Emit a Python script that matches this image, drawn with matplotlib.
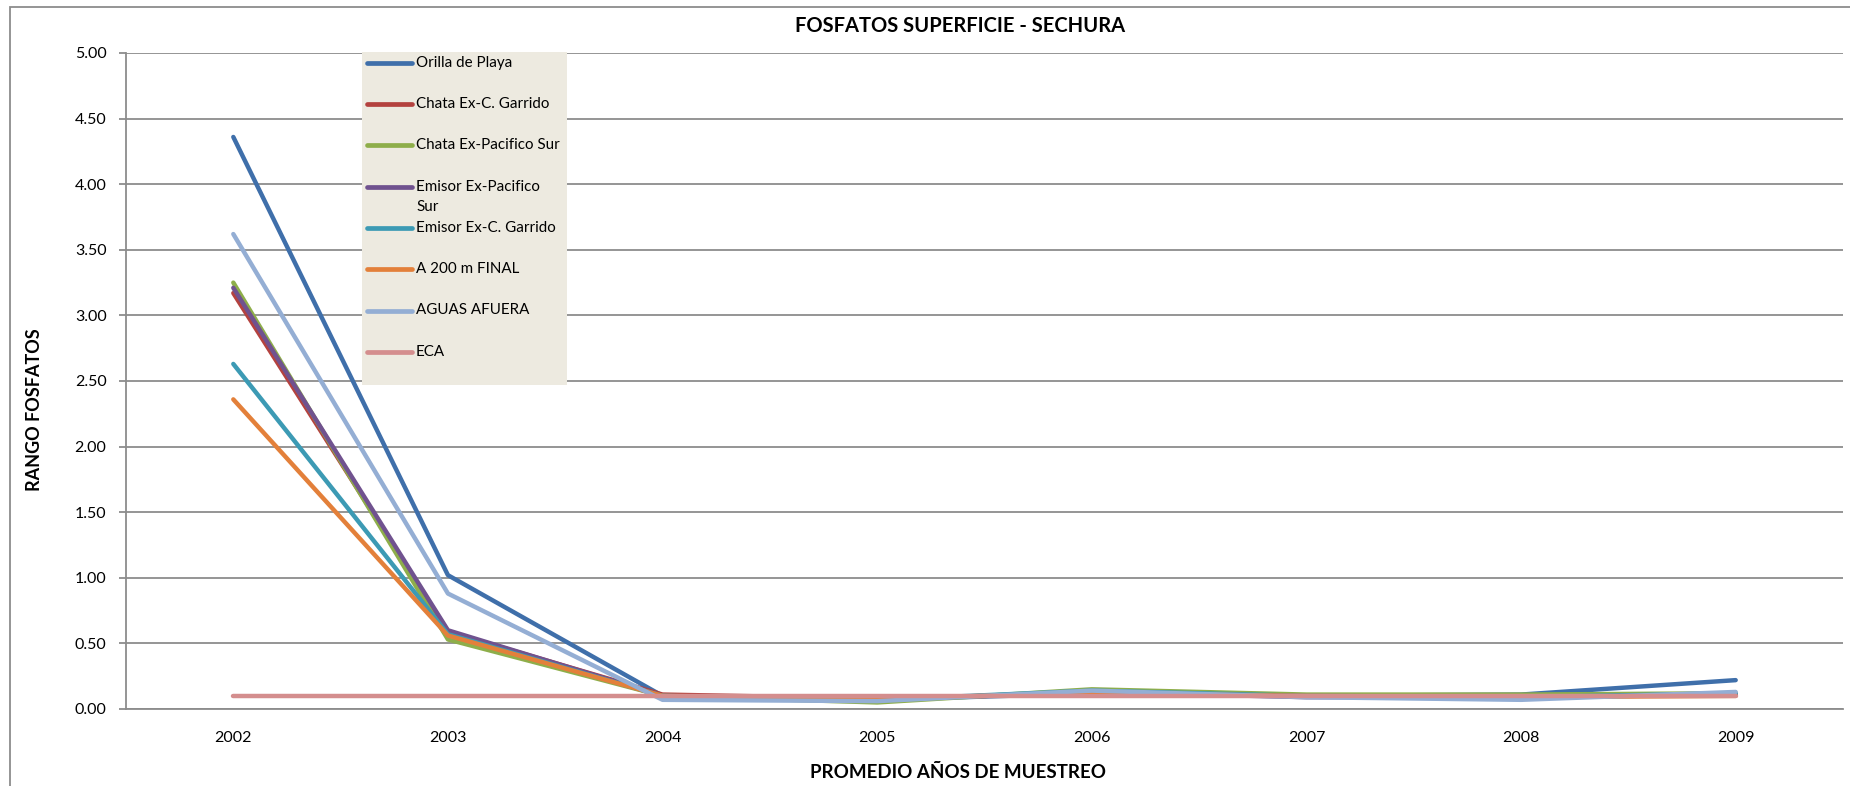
import matplotlib.pyplot as plt
from matplotlib.lines import Line2D
from matplotlib.patches import Rectangle

plt.rcParams['font.family'] = ['Lato', 'DejaVu Sans']

years = ["2002", "2003", "2004", "2005", "2006", "2007", "2008", "2009"]

orilla_playa = [4.36, 1.02, 0.10, 0.07, 0.12, 0.10, 0.11, 0.22]
chata_garrido = [3.17, 0.59, 0.11, 0.08, 0.12, 0.10, 0.10, 0.11]
chata_pacifico = [3.25, 0.53, 0.10, 0.05, 0.15, 0.11, 0.11, 0.12]
emisor_pacifico = [3.21, 0.60, 0.10, 0.07, 0.13, 0.09, 0.09, 0.11]
emisor_garrido = [2.63, 0.57, 0.10, 0.07, 0.14, 0.10, 0.09, 0.12]
a_200m = [2.36, 0.56, 0.10, 0.08, 0.12, 0.10, 0.09, 0.10]
aguas_afuera = [3.62, 0.88, 0.07, 0.06, 0.14, 0.09, 0.07, 0.13]
eca = [0.10, 0.10, 0.10, 0.10, 0.10, 0.10, 0.10, 0.10]

series = [orilla_playa, chata_garrido, chata_pacifico, emisor_pacifico,
          emisor_garrido, a_200m, aguas_afuera, eca]
labels = ["Orilla de Playa", "Chata Ex-C. Garrido", "Chata Ex-Pacifico Sur",
          "Emisor Ex-Pacifico\nSur", "Emisor Ex-C. Garrido", "A 200 m FINAL",
          "AGUAS AFUERA", "ECA"]
colors = ["#3F6FAA", "#B4423F", "#8EAE4A", "#70528F", "#3C9AB4",
          "#E3803A", "#94AED4", "#D48E8E"]

W, H = 1850, 786
fig = plt.figure(figsize=(W / 100, H / 100), dpi=100)
ax = fig.add_axes([126 / W, 1 - 709 / H, (1843 - 126) / W, (709 - 53) / H])

x = list(range(len(years)))
for vals, lab, col in zip(series, labels, colors):
    ax.plot(x, vals, color=col, lw=3.2, solid_capstyle='round',
            solid_joinstyle='round', label=lab)

ax.set_xlim(-0.5, len(years) - 0.5)
ax.set_ylim(0, 5)
ax.set_xticks(x)
ax.set_xticklabels(years)
ax.set_yticks([i * 0.5 for i in range(11)])
ax.set_yticklabels([f"{i * 0.5:.2f}" for i in range(11)])
ax.yaxis.grid(True, color="#8C8C8C", lw=1.3)
ax.set_axisbelow(True)
for s in ["top", "right"]:
    ax.spines[s].set_visible(False)
for s in ["left", "bottom"]:
    ax.spines[s].set_color("#8C8C8C")
    ax.spines[s].set_linewidth(1.3)
ax.tick_params(axis='x', length=0, pad=16, labelsize=11.5)
ax.tick_params(axis='y', length=5, width=1.3, color="#8C8C8C", pad=9, labelsize=11.5)

fig.text(960 / W, 1 - 26 / H, "FOSFATOS SUPERFICIE - SECHURA",
         ha='center', va='center', fontsize=14.5, fontweight='bold')
fig.text(958 / W, 1 - 773 / H, "PROMEDIO AÑOS DE MUESTREO",
         ha='center', va='center', fontsize=13.5, fontweight='bold')
fig.text(35 / W, 1 - 410 / H, "RANGO FOSFATOS", rotation=90,
         ha='center', va='center', fontsize=13, fontweight='bold')

# outer chart border (only top and left visible in the reference)
fig.add_artist(Rectangle((10 / W, -0.05), 1.1, 1.05 - 7 / H, transform=fig.transFigure,
                         fill=False, edgecolor="#8C8C8C", lw=1.3))

# legend box drawn by hand to keep Excel's fixed row spacing
fig.add_artist(Rectangle((362 / W, 1 - 385 / H), (567 - 362) / W, (385 - 52) / H,
                         transform=fig.transFigure, facecolor="#EDEAE0",
                         edgecolor="none", zorder=5))
for i, (lab, col) in enumerate(zip(labels, colors)):
    yy = 62.7 + 41.3 * i
    fig.add_artist(Line2D([367 / W, 412 / W], [1 - yy / H, 1 - yy / H],
                          transform=fig.transFigure, color=col, lw=3.4,
                          solid_capstyle='round', zorder=6))
    for j, part in enumerate(lab.split("\n")):
        fig.text(416 / W, 1 - (yy + 20.7 * j) / H, part, ha='left', va='center',
                 fontsize=10.9, zorder=7)

fig.savefig("out.png", dpi=100)
